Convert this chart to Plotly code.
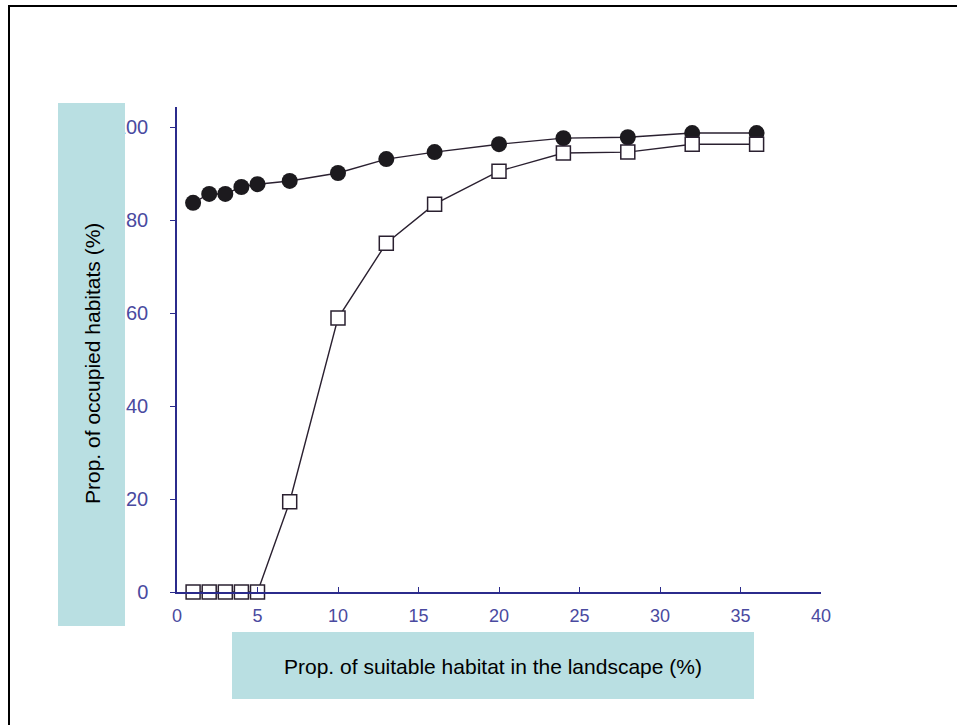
import plotly.graph_objects as go

# ---- data ----
habitat_pct = [1, 2, 3, 4, 5, 7, 10, 13, 16, 20, 24, 28, 32, 36]
occupied_filled = [83.7, 85.6, 85.6, 87.1, 87.7, 88.4, 90.1, 93.1, 94.6, 96.3, 97.6, 97.8, 98.7, 98.7]
occupied_open = [0, 0, 0, 0, 0, 19.4, 58.9, 75.0, 83.4, 90.5, 94.4, 94.6, 96.3, 96.3]
x_ticks = [0, 5, 10, 15, 20, 25, 30, 35, 40]
y_ticks = [0, 20, 40, 60, 80, 100]
x_title = "Prop. of suitable habitat in the landscape (%)"
y_title = "Prop. of occupied habitats (%)"

W, H = 957, 725
L, R, T, B = 177, 821, 107, 592  # plot area in pixels


def px(x):
    return (x - L) / (R - L)


def py(y):
    return (B - y) / (B - T)


LINE = "#2a2030"
AXIS = "#2b2b8c"
TICKC = "#4a4aa0"
BOX = "#b9dfe2"

fig = go.Figure()
fig.add_trace(go.Scatter(
    x=habitat_pct, y=occupied_filled, mode="lines+markers",
    line=dict(color=LINE, width=1.4),
    marker=dict(symbol="circle", size=16, color="#1c1a1e", line=dict(width=0)),
    cliponaxis=False, showlegend=False))
fig.add_trace(go.Scatter(
    x=habitat_pct, y=occupied_open, mode="lines+markers",
    line=dict(color=LINE, width=1.4),
    marker=dict(symbol="square", size=14, color="white", line=dict(color=LINE, width=1.5)),
    cliponaxis=False, showlegend=False))

fig.update_xaxes(range=[0, 40], tickvals=x_ticks, ticks="inside", ticklen=5,
                 tickcolor=AXIS, showline=True, linecolor=AXIS, linewidth=1.5,
                 showgrid=False, zeroline=False, ticklabelstandoff=7,
                 tickfont=dict(family="Liberation Sans", size=18, color=TICKC))
fig.update_yaxes(range=[0, 104.3], tickvals=y_ticks, ticks="outside", ticklen=5,
                 tickcolor=AXIS, showline=True, linecolor=AXIS, linewidth=1.5,
                 showgrid=False, zeroline=False, ticklabelstandoff=18,
                 tickfont=dict(family="Liberation Sans", size=20, color=TICKC))

shapes = [
    dict(type="rect", xref="paper", yref="paper", layer="above",
         x0=px(58), x1=px(125), y0=py(103), y1=py(626),
         fillcolor=BOX, line=dict(width=0)),
    dict(type="rect", xref="paper", yref="paper", layer="above",
         x0=px(232), x1=px(754), y0=py(632), y1=py(699),
         fillcolor=BOX, line=dict(width=0)),
    dict(type="rect", xref="paper", yref="paper", layer="above",
         x0=px(9), x1=px(990), y0=py(6), y1=py(760),
         fillcolor="rgba(0,0,0,0)", line=dict(color="black", width=2)),
]
annotations = [
    dict(text=y_title, xref="paper", yref="paper", x=px(92), y=py(364),
         textangle=-90, showarrow=False, xanchor="center", yanchor="middle",
         font=dict(family="Liberation Sans", size=21, color="black")),
    dict(text=x_title, xref="paper", yref="paper", x=px(493), y=py(666),
         showarrow=False, xanchor="center", yanchor="middle",
         font=dict(family="Liberation Sans", size=21, color="black")),
]

fig.update_layout(width=W, height=H, margin=dict(l=L, r=W - R, t=T, b=H - B),
                  plot_bgcolor="white", paper_bgcolor="white",
                  shapes=shapes, annotations=annotations)
fig.write_html("out.html", config={"displayModeBar": False},
               post_script="document.body.style.margin='0';document.body.style.overflow='hidden';")
